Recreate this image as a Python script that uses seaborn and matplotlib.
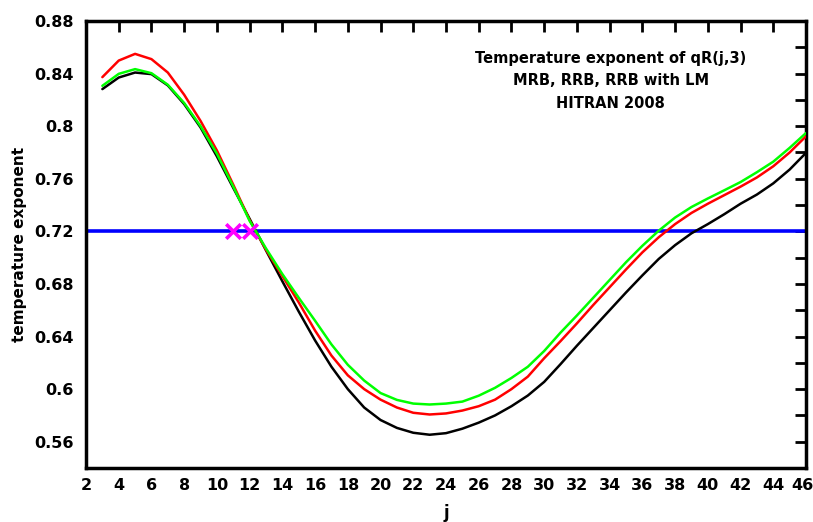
import numpy as np
import pandas as pd
import matplotlib
matplotlib.use("Agg")
import matplotlib.pyplot as plt
import matplotlib.transforms as mtransforms
import seaborn as sns

# rotational quantum number j of the qR(j,3) lines
j = list(range(3, 47))

# temperature exponents, three line-broadening calculations
mrb = [0.8282, 0.8370, 0.8408, 0.8396, 0.8310, 0.8168, 0.7990, 0.7770, 0.7530, 0.7295,
       0.7055, 0.6820, 0.6590, 0.6370, 0.6170, 0.6000, 0.5860, 0.5765, 0.5705, 0.5668,
       0.5653, 0.5665, 0.5699, 0.5745, 0.5800, 0.5870, 0.5951, 0.6055, 0.6190, 0.6330,
       0.6465, 0.6600, 0.6735, 0.6865, 0.6990, 0.7095, 0.7185, 0.7255, 0.7330, 0.7410,
       0.7480, 0.7565, 0.7670, 0.7797]
rrb = [0.8373, 0.8499, 0.8550, 0.8510, 0.8408, 0.8239, 0.8040, 0.7815, 0.7555, 0.7285,
       0.7060, 0.6860, 0.6660, 0.6445, 0.6255, 0.6105, 0.6000, 0.5920, 0.5860, 0.5820,
       0.5807, 0.5815, 0.5837, 0.5870, 0.5920, 0.6000, 0.6095, 0.6235, 0.6365, 0.6500,
       0.6640, 0.6775, 0.6910, 0.7040, 0.7155, 0.7255, 0.7340, 0.7410, 0.7475, 0.7540,
       0.7610, 0.7695, 0.7800, 0.7923]
rrb_lm = [0.8307, 0.8398, 0.8434, 0.8403, 0.8315, 0.8176, 0.8000, 0.7790, 0.7540, 0.7280,
          0.7070, 0.6875, 0.6695, 0.6520, 0.6340, 0.6185, 0.6065, 0.5970, 0.5918, 0.5890,
          0.5883, 0.5890, 0.5905, 0.5950, 0.6010, 0.6085, 0.6170, 0.6290, 0.6430, 0.6560,
          0.6695, 0.6830, 0.6965, 0.7090, 0.7205, 0.7305, 0.7385, 0.7450, 0.7512, 0.7575,
          0.7650, 0.7730, 0.7835, 0.7948]

# reference exponent and the two marked lines
ref_exponent = 0.72
marked_j = [11, 12]
marked_val = [0.72, 0.72]

xticks = list(range(2, 47, 2))
ytick_labels = ["0.56", "0.6", "0.64", "0.68", "0.72", "0.76", "0.8", "0.84", "0.88"]
yticks = [float(t) for t in ytick_labels]

title_lines = ["Temperature exponent of qR(j,3)", "MRB, RRB, RRB with LM", "HITRAN 2008"]

sns.set_style("white")
plt.rcParams["font.family"] = ["DejaVu Sans"]
plt.rcParams["font.weight"] = "bold"
plt.rcParams["text.color"] = "black"
plt.rcParams["axes.labelcolor"] = "black"
plt.rcParams["xtick.color"] = "black"
plt.rcParams["ytick.color"] = "black"

fig = plt.figure(figsize=(8.13, 5.22), dpi=100)
ax = fig.add_axes([86 / 813, 1 - 468 / 522, 720 / 813, 447 / 522])

ax.axhline(ref_exponent, color="#0000ff", lw=2.6, zorder=2)

df = pd.DataFrame({"j": j, "MRB": mrb, "RRB": rrb, "RRB with LM": rrb_lm})
sns.lineplot(data=df, x="j", y="MRB", color="black", lw=1.8, ax=ax, zorder=3)
sns.lineplot(data=df, x="j", y="RRB", color="#ff0000", lw=1.8, ax=ax, zorder=4)
sns.lineplot(data=df, x="j", y="RRB with LM", color="#00ff00", lw=1.8, ax=ax, zorder=5)

sns.scatterplot(x=marked_j, y=marked_val, marker="x", s=110, color="#ff00ff",
                linewidth=2.6, ax=ax, zorder=6)

ax.set_xlim(2, 46)
ax.set_ylim(0.54, 0.88)
ax.set_xticks(xticks)
ax.set_xticklabels([str(t) for t in xticks])
ax.set_yticks(yticks)
ax.set_yticklabels(ytick_labels)
ax.set_yticks(np.arange(0.54, 0.881, 0.02), minor=True)
ax.tick_params(axis="both", which="both", direction="in", top=True, right=True,
               length=8, width=2, labelsize=11.5, color="black", labelcolor="black")
ax.tick_params(axis="x", pad=7)
ax.tick_params(axis="y", pad=9)
for lab in ax.get_xticklabels() + ax.get_yticklabels():
    lab.set_fontweight("bold")
for sp in ax.spines.values():
    sp.set_linewidth(2.5)
    sp.set_color("black")

# keep the last x label inside the figure edge
last = ax.get_xticklabels()[-1]
last.set_transform(last.get_transform()
                   + mtransforms.ScaledTranslation(-4 / 100, 0, fig.dpi_scale_trans))

ax.set_xlabel("j", fontsize=12, fontweight="bold", labelpad=8)
ax.set_ylabel("temperature exponent", fontsize=11, fontweight="bold", labelpad=5)

for k, line in enumerate(title_lines):
    ax.text(0.729, 0.917 - k * 0.051, line, transform=ax.transAxes, ha="center",
            va="center", fontsize=10.5, fontweight="bold", color="black")

fig.savefig("out.png", dpi=100)
